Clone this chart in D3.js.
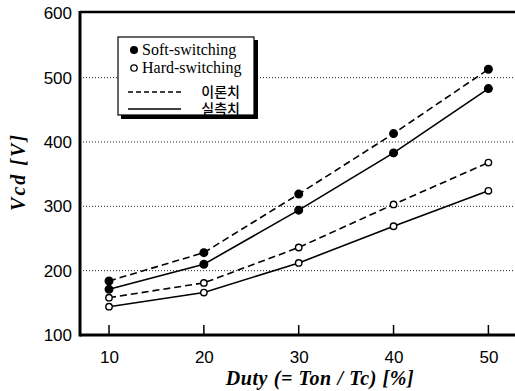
<!DOCTYPE html>
<meta charset="utf-8">
<title>Vcd vs Duty</title>
<script src="https://d3js.org/d3.v7.min.js"></script>
<style>
  body { margin: 0; background: #fff; }
  svg { display: block; }
</style>
<body>
<div id="chart"></div>
<script>
  // data
  var duty = [10, 20, 30, 40, 50];
  var softTheory = [184, 228, 319, 413, 513];
  var softMeasured = [171, 210, 294, 383, 483];
  var hardTheory = [158, 181, 236, 303, 368];
  var hardMeasured = [144, 166, 212, 269, 324];
  var yTicks = [100, 200, 300, 400, 500, 600];
  var gridValues = [200, 300, 400, 500];
  var legendNames = ["Soft-switching", "Hard-switching", "이론치", "실측치"];

  var W = 515, H = 391;
  var plotL = 80, plotR = 514, plotT = 12, plotB = 335;

  var svg = d3.select("#chart").append("svg")
    .attr("width", W).attr("height", H);

  var x = d3.scaleLinear().domain([6.94, 52.7]).range([plotL, plotR]);
  var y = d3.scaleLinear().domain([100, 602]).range([plotB, plotT]);

  // dotted grid lines
  svg.append("g").selectAll("line")
    .data(gridValues).enter().append("line")
    .attr("x1", plotL).attr("x2", W)
    .attr("y1", function (d) { return y(d); })
    .attr("y2", function (d) { return y(d); })
    .attr("stroke", "#222").attr("stroke-width", 1)
    .attr("stroke-dasharray", "1,2");

  // frame: thick left, bottom, top
  svg.append("line").attr("x1", plotL).attr("x2", plotL).attr("y1", plotT - 1).attr("y2", plotB + 1.5)
    .attr("stroke", "#000").attr("stroke-width", 3);
  svg.append("line").attr("x1", plotL).attr("x2", W).attr("y1", plotB).attr("y2", plotB)
    .attr("stroke", "#000").attr("stroke-width", 3);
  svg.append("line").attr("x1", plotL).attr("x2", W).attr("y1", plotT).attr("y2", plotT)
    .attr("stroke", "#000").attr("stroke-width", 2.5);

  // x axis: ticks pointing up, labels below
  var xAxis = svg.append("g")
    .attr("transform", "translate(0," + plotB + ")")
    .call(d3.axisBottom(x).tickValues(duty).tickSize(0).tickPadding(16));
  xAxis.select(".domain").remove();
  xAxis.selectAll("text")
    .attr("font-family", "Liberation Sans, Arial, sans-serif")
    .attr("font-size", 17).attr("fill", "#000");
  svg.append("g").selectAll("line")
    .data(duty).enter().append("line")
    .attr("x1", function (d) { return x(d); })
    .attr("x2", function (d) { return x(d); })
    .attr("y1", plotB).attr("y2", plotB - 10)
    .attr("stroke", "#000").attr("stroke-width", 1.5);

  // y axis labels
  var yAxis = svg.append("g")
    .attr("transform", "translate(" + plotL + ",0)")
    .call(d3.axisLeft(y).tickValues(yTicks).tickSize(0).tickPadding(8));
  yAxis.select(".domain").remove();
  yAxis.selectAll("text")
    .attr("font-family", "Liberation Sans, Arial, sans-serif")
    .attr("font-size", 17).attr("fill", "#000");

  // axis titles
  svg.append("text")
    .attr("transform", "translate(25,172) rotate(-90)")
    .attr("text-anchor", "middle")
    .attr("font-family", "Liberation Serif, Times New Roman, serif")
    .attr("font-weight", "bold").attr("font-style", "italic")
    .attr("font-size", 20).attr("letter-spacing", 2)
    .text("Vcd [V]");
  svg.append("text")
    .attr("x", 320).attr("y", 385)
    .attr("text-anchor", "middle")
    .attr("font-family", "Liberation Serif, Times New Roman, serif")
    .attr("font-weight", "bold").attr("font-style", "italic")
    .attr("font-size", 20).attr("letter-spacing", 0.6)
    .text("Duty (= Ton / Tc) [%]");

  var line = d3.line()
    .x(function (d, i) { return x(duty[i]); })
    .y(function (d) { return y(d); });

  var series = [
    { values: softTheory, dash: "7,4", filled: true },
    { values: softMeasured, dash: null, filled: true },
    { values: hardTheory, dash: "7,4", filled: false },
    { values: hardMeasured, dash: null, filled: false }
  ];

  series.forEach(function (s) {
    svg.append("path")
      .datum(s.values)
      .attr("d", line)
      .attr("fill", "none").attr("stroke", "#000")
      .attr("stroke-width", 1.6)
      .attr("stroke-dasharray", s.dash);
    svg.append("g").selectAll("circle")
      .data(s.values).enter().append("circle")
      .attr("cx", function (d, i) { return x(duty[i]); })
      .attr("cy", function (d) { return y(d); })
      .attr("r", s.filled ? 3.8 : 3.2)
      .attr("fill", s.filled ? "#000" : "#fff")
      .attr("stroke", "#000").attr("stroke-width", 1.4);
  });

  // legend box with shadow
  var lg = svg.append("g");
  lg.append("rect").attr("x", 121).attr("y", 40).attr("width", 137).attr("height", 79).attr("fill", "#000");
  lg.append("rect").attr("x", 118).attr("y", 37).attr("width", 136).attr("height", 78)
    .attr("fill", "#fff").attr("stroke", "#000").attr("stroke-width", 1.2);

  var lf = "Liberation Serif, Times New Roman, serif";
  lg.append("circle").attr("cx", 134).attr("cy", 50).attr("r", 4).attr("fill", "#000");
  lg.append("text").attr("x", 142).attr("y", 55).attr("font-family", lf).attr("font-size", 16).text(legendNames[0]);
  lg.append("circle").attr("cx", 134).attr("cy", 68).attr("r", 3.2).attr("fill", "#fff").attr("stroke", "#000").attr("stroke-width", 1.3);
  lg.append("text").attr("x", 142).attr("y", 73).attr("font-family", lf).attr("font-size", 16).text(legendNames[1]);
  lg.append("line").attr("x1", 128).attr("x2", 181).attr("y1", 92).attr("y2", 92)
    .attr("stroke", "#000").attr("stroke-width", 1.4).attr("stroke-dasharray", "5,3");
  lg.append("text").attr("x", 240).attr("y", 97).attr("text-anchor", "end")
    .attr("font-family", "Noto Sans CJK KR, sans-serif").attr("font-weight", 500)
    .attr("font-size", 14).text(legendNames[2]);
  lg.append("line").attr("x1", 128).attr("x2", 181).attr("y1", 109).attr("y2", 109)
    .attr("stroke", "#000").attr("stroke-width", 1.4);
  lg.append("text").attr("x", 240).attr("y", 114).attr("text-anchor", "end")
    .attr("font-family", "Noto Sans CJK KR, sans-serif").attr("font-weight", 500)
    .attr("font-size", 14).text(legendNames[3]);
</script>
</body>
